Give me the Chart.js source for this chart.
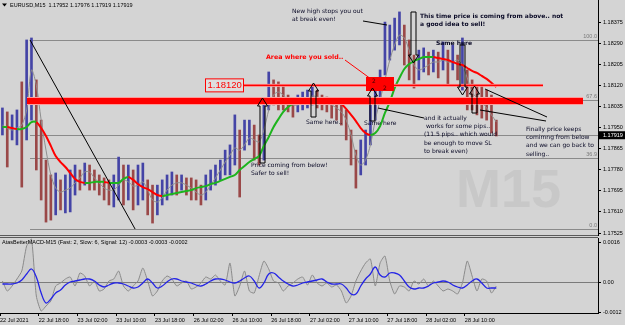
<!DOCTYPE html>
<html>
<head>
<meta charset="utf-8">
<script src="https://cdn.jsdelivr.net/npm/chart.js@4.4.1/dist/chart.umd.min.js"></script>
<style>
  html, body { margin: 0; padding: 0; background: #d4d4d4; }
  #wrap { position: relative; width: 625px; height: 325px; overflow: hidden; background: #d4d4d4; }
  .pane { position: absolute; left: 0; width: 625px; }
</style>
</head>
<body>
<div id="wrap">
  <div class="pane" style="top:0;height:237px"><canvas id="main"></canvas></div>
  <div class="pane" style="top:237px;height:88px"><canvas id="macd"></canvas></div>
</div>
<script>
// ---- data (one value per hour, 22 Jul 10:00 -> 28 Jul ~14:00) ----
const timeLabels = ['22 Jul 2021', '22 Jul 18:00', '23 Jul 02:00', '23 Jul 10:00', '23 Jul 18:00', '26 Jul 02:00',
  '26 Jul 10:00', '26 Jul 18:00', '27 Jul 02:00', '27 Jul 10:00', '27 Jul 18:00', '28 Jul 02:00', '28 Jul 10:00'];
const labelEvery = 8;

const highs = [1.18029,1.18013,1.18001,1.18021,1.18134,1.18303,1.18311,1.18142,1.17980,1.17819,
  1.17759,1.17767,1.17739,1.17759,1.17779,1.17799,1.17779,1.17807,1.17799,1.17779,
  1.17759,1.17747,1.17739,1.17759,1.17831,1.17799,1.17799,1.17779,1.17799,1.17807,
  1.17739,1.17718,1.17718,1.17739,1.17759,1.17771,1.17759,1.17759,1.17747,1.17747,
  1.17739,1.17718,1.17759,1.17779,1.17799,1.17819,1.17859,1.17880,1.18001,1.17940,
  1.17980,1.17980,1.17960,1.17920,1.18061,1.18174,1.18142,1.18134,1.18121,1.18081,
  1.18061,1.18081,1.18093,1.18101,1.18121,1.18101,1.18081,1.18073,1.18061,1.18061,
  1.18041,1.18021,1.17940,1.17859,1.17900,1.17940,1.18041,1.18142,1.18182,1.18375,
  1.18363,1.18391,1.18416,1.18363,1.18303,1.18242,1.18262,1.18271,1.18254,1.18262,
  1.18254,1.18295,1.18262,1.18283,1.18242,1.18311,1.18182,1.18142,1.18121,1.18121,
  1.18101,1.18081,1.17980];
const lows = [1.17920,1.17791,1.17900,1.17880,1.17710,1.17900,1.17980,1.17779,1.17658,1.17569,
  1.17577,1.17598,1.17618,1.17606,1.17610,1.17678,1.17698,1.17718,1.17698,1.17698,
  1.17678,1.17658,1.17638,1.17630,1.17658,1.17638,1.17658,1.17618,1.17638,1.17658,
  1.17598,1.17565,1.17598,1.17638,1.17658,1.17678,1.17678,1.17698,1.17678,1.17658,
  1.17658,1.17638,1.17658,1.17698,1.17718,1.17739,1.17759,1.17759,1.17799,1.17670,
  1.17859,1.17880,1.17819,1.17799,1.17819,1.18021,1.18041,1.18021,1.18021,1.18013,
  1.17992,1.18013,1.18021,1.18029,1.18041,1.18029,1.18021,1.18013,1.17988,1.17980,
  1.17960,1.17900,1.17799,1.17706,1.17759,1.17799,1.17880,1.17980,1.18061,1.18162,
  1.18222,1.18262,1.18283,1.18202,1.18142,1.18109,1.18142,1.18174,1.18162,1.18174,
  1.18150,1.18182,1.18121,1.18182,1.18142,1.18101,1.18021,1.18021,1.18001,1.17988,
  1.17980,1.17928,1.17916];
// thick red/green average
const maLine = [1.17952,1.17952,1.17948,1.17944,1.17944,1.17952,1.17972,1.17972,1.17948,1.17916,
  1.17876,1.17835,1.17811,1.17791,1.17767,1.17743,1.17731,1.17727,1.17727,1.17731,
  1.17731,1.17731,1.17727,1.17727,1.17727,1.17743,1.17751,1.17739,1.17722,1.17710,
  1.17702,1.17690,1.17678,1.17674,1.17678,1.17682,1.17686,1.17690,1.17694,1.17698,
  1.17706,1.17710,1.17714,1.17722,1.17727,1.17735,1.17743,1.17751,1.17759,1.17779,
  1.17795,1.17811,1.17823,1.17835,1.17876,1.17912,1.17952,1.17984,1.18013,1.18033,
  1.18045,1.18053,1.18053,1.18057,1.18057,1.18061,1.18061,1.18057,1.18057,1.18053,
  1.18045,1.18025,1.18001,1.17976,1.17948,1.17928,1.17920,1.17928,1.17956,1.18009,
  1.18053,1.18109,1.18150,1.18186,1.18206,1.18218,1.18226,1.18234,1.18234,1.18234,
  1.18230,1.18226,1.18222,1.18214,1.18206,1.18202,1.18190,1.18178,1.18170,1.18158,
  1.18146,1.18130,1.18113];
// thin grey average
const grayLine = [1.17960,1.17948,1.17940,1.17948,1.17960,1.18021,1.18182,1.18121,1.17980,1.17859,
  1.17759,1.17706,1.17690,1.17698,1.17706,1.17727,1.17747,1.17771,1.17771,1.17747,
  1.17727,1.17706,1.17698,1.17698,1.17718,1.17739,1.17731,1.17714,1.17718,1.17731,
  1.17698,1.17658,1.17650,1.17666,1.17698,1.17718,1.17727,1.17727,1.17718,1.17706,
  1.17690,1.17678,1.17690,1.17718,1.17747,1.17779,1.17811,1.17839,1.17868,1.17859,
  1.17880,1.17908,1.17900,1.17892,1.17940,1.18021,1.18081,1.18093,1.18081,1.18061,
  1.18041,1.18041,1.18049,1.18061,1.18077,1.18073,1.18061,1.18049,1.18041,1.18029,
  1.18013,1.17980,1.17920,1.17839,1.17799,1.17819,1.17880,1.17980,1.18061,1.18142,
  1.18222,1.18283,1.18323,1.18311,1.18262,1.18202,1.18182,1.18190,1.18202,1.18214,
  1.18214,1.18222,1.18214,1.18214,1.18222,1.18202,1.18150,1.18093,1.18069,1.18053,
  1.18029,1.18001,1.17972];

const macdMain = [0.00004,-0.00036,-0.00016,0.00012,0.00044,0.00144,0.00172,-0.00056,-0.00116,-0.00096,
  -0.00076,-0.00016,-0.00004,0.00012,0.0002,-0.00016,0.00036,0.00024,-0.00016,0.00004,
  -0.00036,-0.00028,0.00004,0.00012,0.00044,-0.00016,-0.00036,-0.00016,0.00004,0.00056,
  0.00004,-0.00056,-0.00036,0.00004,0.00024,0.00012,-0.00016,-0.00004,0.00004,-0.00028,
  -0.0002,-0.00004,0.0002,0.00012,0.00028,0.00004,-0.00012,0.00076,-0.00056,-0.00016,
  0.00044,-0.00036,-0.00044,0.00024,0.00084,0.00052,0.00004,-0.00004,-0.00036,-0.00016,
  -0.00004,0.00012,0.0002,-0.00012,0.00028,-0.00004,-0.00016,-0.00004,-0.0002,-0.00012,
  -0.00036,-0.00084,-0.00056,0.00004,0.00044,0.00076,0.00092,-0.00016,0.00076,0.00104,
  0.00004,-0.00048,-0.00016,-0.0002,-0.00036,0.00004,-0.00008,0.00012,-0.00016,0.00004,
  -0.00016,-0.00036,-0.00028,-0.00036,-0.00048,-0.00004,0.00084,0.00024,-0.00036,0.00012,
  0.00004,-0.00044,-0.00016];
const macdSignal = [-0.00008,-0.00008,-0.00008,-0.00004,0.00008,0.00032,0.00052,0.0002,-0.00044,-0.00084,
  -0.00068,-0.00044,-0.00032,-0.00012,0,0.00004,0.00008,0.00012,0.00012,0.00004,
  -0.00012,-0.0002,-0.00012,-0.00004,-0.00004,-0.00008,-0.00016,-0.00024,-0.0002,-0.00004,
  0.00012,-0.00004,-0.00024,-0.00016,0,0.00012,0.00012,0.00004,0,-0.00004,
  -0.00012,-0.00016,-0.00008,0.00004,0.00012,0.00012,0.00008,0,-0.00004,0.00004,
  0.00016,0.00024,0.00004,-0.00024,-0.00004,0.00032,0.00036,0.0002,0.00004,-0.00008,
  -0.00016,-0.00012,-0.00004,0,0.00004,0.00008,0.00012,0,-0.00008,-0.00008,
  -0.00008,-0.00024,-0.00048,-0.00048,-0.00016,0.00012,0.00032,0.0006,0.00028,0.0002,
  0.00036,0.00036,0.00028,0.00004,-0.0002,-0.00028,-0.00024,-0.00024,-0.00016,-0.00004,
  0,0.00004,0,-0.00012,-0.0002,-0.00024,-0.00012,0.00004,0.00012,-0.00004,
  -0.00024,-0.00024,-0.00024];

const priceTicks = [1.17525, 1.17610, 1.17695, 1.17780, 1.17865, 1.17950, 1.18035, 1.18120, 1.18205, 1.18290, 1.18375];
const macdTicks = [-0.0012, 0, 0.0016];
const ohlc = [1.17952, 1.17976, 1.17919, 1.17919];
const fibLevels = [1.18303, 1.18061, 1.17920, 1.17827, 1.17541];
const fibLabels = ['100.0', '67.6', '', '36.9', '0.0'];
const soldZone = 1.18057;
const alertLevel = 1.18120;

// ---- layout ----
const visibleSlots = 123.5;   // hourly slots across the 598px plot
const axisW = 27;
const INK = '#0a0a26';
const tickFont = { family: 'Liberation Sans', size: 5.5 };

const slots = highs.map((_, i) => i);
const candleColors = slots.map(i => {
  const mid = (highs[i] + lows[i]) / 2;
  const prev = i ? (highs[i - 1] + lows[i - 1]) / 2 : mid;
  return mid >= prev ? '#4444a6' : '#9a4848';
});

function seg(ctx, x1, y1, x2, y2) {
  ctx.beginPath(); ctx.moveTo(x1, y1); ctx.lineTo(x2, y2); ctx.stroke();
}

function arrow(ctx, cx, top, bottom, up) {
  const hw = 5, sw = 2.5, hh = 8;
  ctx.beginPath();
  if (up) {
    ctx.moveTo(cx, top); ctx.lineTo(cx + hw, top + hh); ctx.lineTo(cx + sw, top + hh);
    ctx.lineTo(cx + sw, bottom); ctx.lineTo(cx - sw, bottom); ctx.lineTo(cx - sw, top + hh);
    ctx.lineTo(cx - hw, top + hh);
  } else {
    ctx.moveTo(cx, bottom); ctx.lineTo(cx + hw, bottom - hh); ctx.lineTo(cx + sw, bottom - hh);
    ctx.lineTo(cx + sw, top); ctx.lineTo(cx - sw, top); ctx.lineTo(cx - sw, bottom - hh);
    ctx.lineTo(cx - hw, bottom - hh);
  }
  ctx.closePath();
  ctx.stroke();
}

function lines(ctx, rows, x, y0, step) {
  rows.forEach((t, k) => ctx.fillText(t, x, y0 + k * step));
}

const mainOverlay = {
  id: 'mainOverlay',
  beforeDatasetsDraw(chart) {
    const { ctx, chartArea: a, scales: { x, y } } = chart;
    ctx.save();
    // watermark
    ctx.fillStyle = '#c8c8c8';
    ctx.font = 'bold 54px "Liberation Sans"';
    ctx.textBaseline = 'alphabetic';
    ctx.fillText('M15', 456, 207);
    // fibo levels
    ctx.strokeStyle = '#8a8a8a'; ctx.lineWidth = 1;
    ctx.fillStyle = '#7a7a7a';
    ctx.font = '5.5px "Liberation Sans"';
    ctx.textAlign = 'right'; ctx.textBaseline = 'bottom';
    const fx = x.getPixelForValue(5.7);
    fibLevels.forEach((p, k) => {
      const yy = Math.round(y.getPixelForValue(p)) + 0.5;
      seg(ctx, fx, yy, a.right, yy);
      if (fibLabels[k]) ctx.fillText(fibLabels[k], a.right - 1, yy - 1);
    });
    ctx.restore();
  },
  afterDatasetsDraw(chart) {
    const { ctx, scales: { x, y } } = chart;
    ctx.save();
    // thick red zone
    const by = y.getPixelForValue(soldZone);
    ctx.fillStyle = '#ff9a9a'; ctx.fillRect(27, by - 4, 556, 8);
    ctx.fillStyle = '#ff0000'; ctx.fillRect(27, by - 3, 556, 6);
    // alert line with its price box
    const ay = y.getPixelForValue(alertLevel);
    ctx.fillStyle = '#ffa0a0'; ctx.fillRect(243, ay - 1.5, 300, 3);
    ctx.fillStyle = '#ff0000'; ctx.fillRect(243, ay - 0.75, 300, 1.5);
    ctx.fillStyle = '#dedede'; ctx.fillRect(205.5, ay - 6.5, 38, 13);
    ctx.strokeStyle = '#ff0000'; ctx.lineWidth = 1; ctx.strokeRect(205.5, ay - 6.5, 38, 13);
    ctx.fillStyle = '#ff0000'; ctx.font = '9.5px "Liberation Sans"';
    ctx.textBaseline = 'middle'; ctx.textAlign = 'left';
    ctx.fillText(alertLevel.toFixed(5), 207.5, ay + 0.5);
    // sold area box
    ctx.fillStyle = '#ff0000'; ctx.fillRect(366, 77, 28, 14);
    ctx.fillStyle = '#400000'; ctx.font = '6px "DejaVu Sans"';
    ctx.fillText('2', 372, 81); ctx.fillText('2', 383, 88);
    // fibo diagonal
    ctx.strokeStyle = '#000'; ctx.lineWidth = 1;
    seg(ctx, x.getPixelForValue(5.7), y.getPixelForValue(fibLevels[0]), x.getPixelForValue(27.4), y.getPixelForValue(fibLevels[4]));
    // arrows
    arrow(ctx, 262.5, 98, 163, true);
    arrow(ctx, 313.5, 83, 117, true);
    arrow(ctx, 372.5, 88, 121, true);
    arrow(ctx, 413.5, 12, 63, false);
    arrow(ctx, 462.5, 45, 95, false);
    arrow(ctx, 474.5, 86, 113, true);
    // pointer lines
    seg(ctx, 363, 21, 387, 25);
    seg(ctx, 378, 108, 424, 118);
    seg(ctx, 485, 89, 547, 117);
    seg(ctx, 480, 110, 546, 121);
    ctx.strokeStyle = '#ff0000';
    seg(ctx, 345, 60, 371, 79);
    // notes
    ctx.textAlign = 'left'; ctx.textBaseline = 'middle';
    ctx.fillStyle = '#ff0000'; ctx.font = 'bold 6.3px "DejaVu Sans"';
    ctx.fillText('Area where you sold..', 266, 57);
    ctx.fillStyle = INK; ctx.font = '6px "DejaVu Sans"';
    lines(ctx, ['New high stops you out', 'at break even!'], 292, 11, 8.5);
    lines(ctx, ['Same here..'], 306, 122, 8);
    lines(ctx, ['Same here'], 364, 123, 8);
    lines(ctx, ['Price coming from below!', 'Safer to sell!'], 251, 165, 8.5);
    lines(ctx, ['and it actually', ' works for some pips..', '(11.5 pips.. which would', 'be enough to move SL', 'to break even)'], 424, 118, 8.4);
    lines(ctx, ['Finally price keeps', 'comimng from below', 'and we can go back to', 'selling..'], 526, 129, 8.4);
    ctx.font = 'bold 6px "DejaVu Sans"';
    lines(ctx, ['This time price is coming from above.. not', 'a good idea to sell!'], 420, 16, 8.5);
    lines(ctx, ['Same here'], 436, 43, 8);
    ctx.restore();
  },
  afterDraw(chart) {
    const { ctx, chartArea: a, scales: { y } } = chart;
    ctx.save();
    // header
    ctx.fillStyle = '#000';
    ctx.beginPath(); ctx.moveTo(2, 3.5); ctx.lineTo(7, 3.5); ctx.lineTo(4.5, 6.5); ctx.closePath(); ctx.fill();
    ctx.font = '5.5px "Liberation Sans"'; ctx.textBaseline = 'middle'; ctx.textAlign = 'left';
    ctx.fillText('EURUSD,M15  ' + ohlc.map(v => v.toFixed(5)).join(' '), 10, 5);
    // last price marker
    const ly = y.getPixelForValue(ohlc[3]);
    ctx.fillStyle = '#000'; ctx.fillRect(a.right + 1, ly - 4, 26, 8);
    ctx.fillStyle = '#fff'; ctx.fillText(ohlc[3].toFixed(5), a.right + 5, ly);
    // panel separator
    ctx.strokeStyle = '#5a5a5a'; ctx.lineWidth = 1;
    seg(ctx, 0, a.bottom + 0.5, a.right, a.bottom + 0.5);
    ctx.restore();
  }
};

const macdOverlay = {
  id: 'macdOverlay',
  beforeDatasetsDraw(chart) {
    const { ctx, chartArea: a, scales: { y } } = chart;
    ctx.save();
    ctx.strokeStyle = '#7a7a7a'; ctx.lineWidth = 1;
    const zy = Math.round(y.getPixelForValue(0)) + 0.5;
    seg(ctx, a.left, zy, a.right, zy);
    ctx.restore();
  },
  afterDraw(chart) {
    const { ctx, chartArea: a } = chart;
    ctx.save();
    ctx.strokeStyle = '#5a5a5a'; ctx.lineWidth = 1;
    seg(ctx, 0, a.top - 0.5, a.right, a.top - 0.5);
    ctx.fillStyle = '#000'; ctx.font = '5.5px "Liberation Sans"';
    ctx.textBaseline = 'middle'; ctx.textAlign = 'left';
    const fmt = v => v.toFixed(4);
    ctx.fillText('AtasBetterMACD-M15 (Fast: 2, Slow: 6, Signal: 12) ' + fmt(-0.0003) + ' ' + fmt(-0.0003) + ' ' + fmt(-0.0002), 2, a.top + 4);
    ctx.restore();
  }
};

const noPad = s => { s.paddingTop = 0; s.paddingBottom = 0; s.paddingLeft = 0; s.paddingRight = 0; };

new Chart(document.getElementById('main'), {
  type: 'bar',
  data: {
    datasets: [
      {
        type: 'line', order: 0,
        data: slots.map(i => ({ x: i, y: maLine[i] })),
        borderColor: '#ff0000', borderWidth: 2, pointRadius: 0, tension: 0.3,
        segment: { borderColor: c => c.p1.parsed.y >= c.p0.parsed.y ? '#1db41d' : '#ff0000' }
      },
      {
        type: 'line', order: 1,
        data: slots.map(i => ({ x: i, y: grayLine[i] })),
        borderColor: '#8e8e8e', borderWidth: 1, pointRadius: 0, tension: 0.3
      },
      {
        type: 'bar', order: 2,
        data: slots.map(i => ({ x: i, y: [lows[i], highs[i]] })),
        backgroundColor: candleColors, barThickness: 2
      }
    ]
  },
  options: {
    responsive: true, maintainAspectRatio: false, animation: false,
    layout: { padding: { top: 0, bottom: 2, left: 0, right: 0 } },
    plugins: { legend: { display: false }, tooltip: { enabled: false } },
    scales: {
      x: { type: 'linear', offset: false, min: -0.5, max: visibleSlots - 0.5, display: false },
      y: {
        position: 'right', min: 1.17517, max: 1.18464,
        afterBuildTicks: s => { s.ticks = priceTicks.map(v => ({ value: v })); },
        afterFit: s => { s.width = axisW; noPad(s); },
        ticks: { color: '#000', font: tickFont, padding: 2, callback: v => v.toFixed(5) },
        grid: { drawOnChartArea: false, tickLength: 3, color: '#000' },
        border: { color: '#000' }
      }
    }
  },
  plugins: [mainOverlay]
});

new Chart(document.getElementById('macd'), {
  type: 'line',
  data: {
    datasets: [
      {
        order: 0, data: slots.map(i => ({ x: i, y: macdSignal[i] })),
        borderColor: '#2424e6', borderWidth: 1.3, pointRadius: 0, tension: 0.4
      },
      {
        order: 1, data: slots.map(i => ({ x: i, y: macdMain[i] })),
        borderColor: '#8a8a8a', borderWidth: 1, pointRadius: 0, tension: 0.2,
        fill: { target: 'origin', above: 'rgba(150,150,150,0.1)', below: 'rgba(150,150,150,0.1)' }
      }
    ]
  },
  options: {
    responsive: true, maintainAspectRatio: false, animation: false,
    layout: { padding: { top: 1, bottom: 0, left: 0, right: 0 } },
    plugins: { legend: { display: false }, tooltip: { enabled: false } },
    scales: {
      x: {
        type: 'linear', offset: false, min: -0.5, max: visibleSlots - 0.5,
        afterBuildTicks: s => { s.ticks = timeLabels.map((_, k) => ({ value: k * labelEvery - 0.5 })); },
        afterFit: s => { s.height = 12; noPad(s); },
        ticks: { color: '#000', font: tickFont, padding: 1, align: 'start', maxRotation: 0, autoSkip: false,
          callback: (v, k) => timeLabels[k] },
        grid: { drawOnChartArea: false, tickLength: 3, color: '#000' },
        border: { color: '#000' }
      },
      y: {
        position: 'right', min: -0.00124, max: 0.00176,
        afterBuildTicks: s => { s.ticks = macdTicks.map(v => ({ value: v })); },
        afterFit: s => { s.width = axisW; noPad(s); },
        ticks: { color: '#000', font: tickFont, padding: 2, callback: v => v === 0 ? '0.00' : v.toFixed(4) },
        grid: { drawOnChartArea: false, tickLength: 3, color: '#000' },
        border: { color: '#000' }
      }
    }
  },
  plugins: [macdOverlay]
});
</script>
</body>
</html>
